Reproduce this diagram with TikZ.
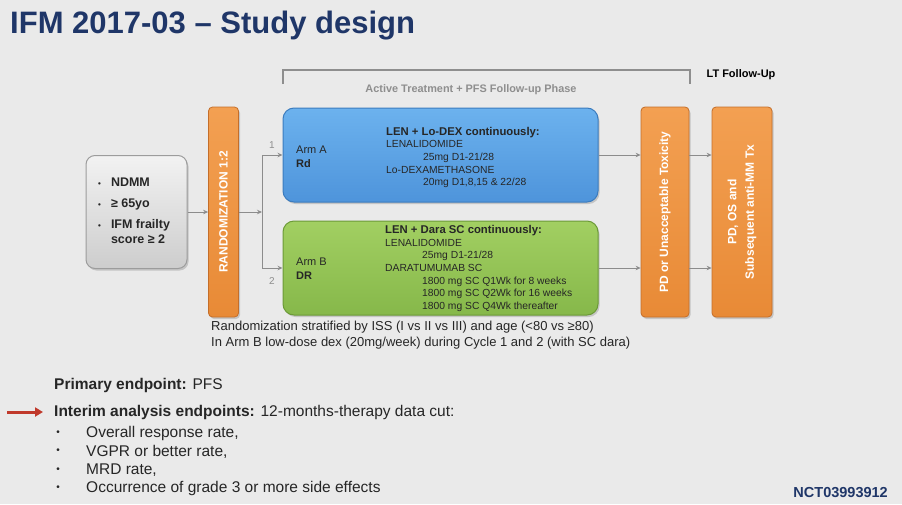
\documentclass[tikz,border=0pt]{standalone}
\usepackage{fontspec}
\setmainfont{Liberation Sans}
\usetikzlibrary{arrows.meta,shadows}
\definecolor{slidebg}{HTML}{EAEAEA}
\definecolor{titleblue}{HTML}{1F3668}
\definecolor{linegray}{HTML}{8C8C8C}
\definecolor{phasegray}{HTML}{8E8E8E}
\definecolor{orangetop}{HTML}{F3A052}
\definecolor{orangebot}{HTML}{E88A36}
\definecolor{orangeedge}{HTML}{C46E2A}
\definecolor{bluetop}{HTML}{6CB2EE}
\definecolor{bluebot}{HTML}{4E94DB}
\definecolor{blueedge}{HTML}{3C7CBE}
\definecolor{greentop}{HTML}{A2CF62}
\definecolor{greenbot}{HTML}{86B84A}
\definecolor{greenedge}{HTML}{6C9A38}
\definecolor{graytop}{HTML}{F2F2F2}
\definecolor{graybot}{HTML}{CDCDCD}
\definecolor{grayedge}{HTML}{9C9C9C}
\definecolor{arrowred}{HTML}{C0392B}
\definecolor{notetext}{HTML}{262626}
\tikzset{
  txt/.style={inner sep=0pt, text=notetext},
  flowline/.style={draw=linegray, line width=1pt},
  flowarrow/.style={flowline, -{Stealth[length=5pt,width=4.5pt]}},
  boxshadow/.style={drop shadow={opacity=0.35, shadow xshift=1.5pt, shadow yshift=-2pt}},
  bar/.style={boxshadow, draw=orangeedge, line width=0.8pt, rounded corners=4pt,
    top color=orangetop, bottom color=orangebot, minimum height=210pt},
  bartext/.style={rotate=90, inner sep=0pt, text=white, align=center,
    font=\fontsize{12}{17.5}\selectfont\bfseries},
  armbox/.style={boxshadow, rounded corners=11pt, line width=1pt,
    minimum width=315pt, minimum height=94pt},
  armtag/.style={txt, anchor=west, align=left, font=\fontsize{11}{14}\selectfont},
  regimen/.style={txt, anchor=west, align=left, font=\fontsize{10.3}{12.6}\selectfont},
  branchnum/.style={txt, text=phasegray, font=\fontsize{10}{12}\selectfont},
  endpt/.style={txt, anchor=west, font=\fontsize{15.5}{18}\selectfont},
}
\begin{document}
\begin{tikzpicture}[x=1pt,y=-1pt]
		%%%%% START %%%%%
		\fill[slidebg] (0,0) rectangle (902,504);
		\useasboundingbox (0,0) rectangle (902,504);
		
		\node[txt, anchor=base west, text=titleblue, font=\fontsize{31}{36}\selectfont\bfseries] (title) at (10,33) {IFM 2017-03 – Study design};
		
		% phase bracket
		\draw[phasegray, line width=1.2pt] (283,84) -- (283,70) -- (690,70) -- (690,84);
		\node[txt, text=phasegray, font=\fontsize{10.9}{13}\selectfont\bfseries] (phase) at (471,90) {Active Treatment + PFS Follow-up Phase};
		\node[txt, text=black, font=\fontsize{11}{13}\selectfont\bfseries] (ltlabel) at (741,75) {LT Follow-Up};
		
		% inclusion
		\node[boxshadow, draw=grayedge, line width=1pt, rounded corners=9pt, top color=graytop, bottom color=graybot,
		  minimum width=101pt, minimum height=113pt] (incl) at (136.5,212) {};
		\node[txt, anchor=west, font=\fontsize{12.5}{15.5}\selectfont\bfseries] (incltext) at (98,212)
		  {\begin{tabular}{@{}l@{\hspace{10pt}}l@{}}
		    {\fontsize{8}{8}\selectfont\textbullet} & NDMM\\[5.5pt]
		    {\fontsize{8}{8}\selectfont\textbullet} & ≥ 65yo\\[5.5pt]
		    {\fontsize{8}{8}\selectfont\textbullet} & IFM frailty\\
		     & score ≥ 2
		   \end{tabular}};
		
		% bars
		\node[bar, minimum width=30pt] (rand) at (223.5,212) {};
		\node[bartext] (randtext) at (rand) {RANDOMIZATION 1:2};
		\node[bar, minimum width=48pt] (stop) at (665,212) {};
		\node[bartext] (stoptext) at (stop) {PD or Unacceptable Toxicity};
		\node[bar, minimum width=60pt] (ltfu) at (742,212) {};
		\node[bartext] (ltfutext) at (ltfu) {PD, OS and\\Subsequent anti-MM Tx};
		
		% arms
		\node[armbox, draw=blueedge, top color=bluetop, bottom color=bluebot] (armA) at (440.5,155) {};
		\node[armtag] (armAtag) at (296,157) {Arm A\\\textbf{Rd}};
		\node[regimen] (armAreg) at (386,157.5) {{\fontsize{11.3}{12.6}\selectfont\bfseries LEN + Lo-DEX continuously:}\\
		  LENALIDOMIDE\\
		  \hspace*{37pt}25mg D1-21/28\\
		  Lo-DEXAMETHASONE\\
		  \hspace*{37pt}20mg D1,8,15 \& 22/28};
		
		\node[armbox, draw=greenedge, top color=greentop, bottom color=greenbot] (armB) at (440.5,268) {};
		\node[armtag] (armBtag) at (296,269) {Arm B\\\textbf{DR}};
		\node[regimen] (armBreg) at (385,268.5) {{\fontsize{11.3}{12.6}\selectfont\bfseries LEN + Dara SC continuously:}\\
		  LENALIDOMIDE\\
		  \hspace*{37pt}25mg D1-21/28\\
		  DARATUMUMAB SC\\
		  \hspace*{37pt}1800 mg SC Q1Wk for 8 weeks\\
		  \hspace*{37pt}1800 mg SC Q2Wk for 16 weeks\\
		  \hspace*{37pt}1800 mg SC Q4Wk thereafter};
		
		% connectors
		\coordinate (split) at (262,212);
		\draw[flowarrow] (incl.east) -- (incl.east -| rand.west);
		\draw[flowarrow] (rand.east |- split) -- (split);
		\draw[flowline] (split |- armA.west) -- (split |- armB.west);
		\draw[flowarrow] (split |- armA.west) -- (armA.west);
		\draw[flowarrow] (split |- armB.west) -- (armB.west);
		\node[branchnum] (numA) at (272,145) {1};
		\node[branchnum] (numB) at (272,281) {2};
		\draw[flowarrow] (armA.east) -- (armA.east -| stop.west);
		\draw[flowarrow] (armB.east) -- (armB.east -| stop.west);
		\draw[flowarrow] (stop.east |- armA.east) -- (ltfu.west |- armA.east);
		\draw[flowarrow] (stop.east |- armB.east) -- (ltfu.west |- armB.east);
		
		% notes
		\node[txt, anchor=west, font=\fontsize{13}{15}\selectfont] (strat) at (211,327) {Randomization stratified by ISS (I vs II vs III) and age (<80 vs ≥80)};
		\node[txt, anchor=west, font=\fontsize{13}{15}\selectfont] (dexnote) at (211,343) {In Arm B low-dose dex (20mg/week) during Cycle 1 and 2 (with SC dara)};
		
		% endpoints
		\node[endpt] (primary) at (54,385) {\textbf{Primary endpoint:} PFS};
		\node[endpt] (interim) at (54,412) {\textbf{Interim analysis endpoints:} 12-months-therapy data cut:};
		\coordinate (redtail) at (7,412);
		\draw[arrowred, line width=3pt, -{Triangle[length=8pt,width=9pt]}] (redtail) -- ([xshift=-11pt]interim.west);
		\foreach \endpt [count=\k] in {{Overall response rate,},{VGPR or better rate,},{MRD rate,},{Occurrence of grade 3 or more side effects}}
		{
		  \node[txt, font=\fontsize{10}{12}\selectfont] (dot\k) at (58,{433+18.5*(\k-1)}) {\textbullet};
		  \node[endpt] (ep\k) at (86,{433+18.5*(\k-1)}) {\endpt};
		}
		
		\node[txt, anchor=east, text=titleblue, font=\fontsize{14.5}{16}\selectfont\bfseries] (nct) at (888,493) {NCT03993912};
		%%%%% END %%%%%
\end{tikzpicture}
\end{document}
